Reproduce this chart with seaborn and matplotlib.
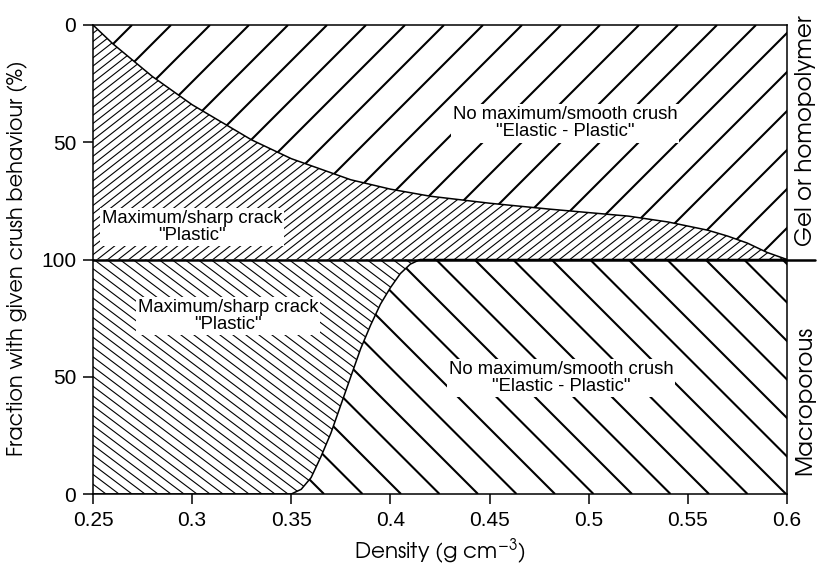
import numpy as np
import matplotlib.pyplot as plt
import seaborn as sns
from matplotlib.collections import LineCollection

# Gel / homopolymer panel: boundary position, % measured down from the top
density_gel = [0.25, 0.26, 0.27, 0.28, 0.29, 0.30, 0.31, 0.32, 0.33, 0.34, 0.35,
               0.36, 0.38, 0.40, 0.42, 0.45, 0.48, 0.50, 0.52, 0.54, 0.56, 0.57,
               0.58, 0.59, 0.60]
gel_boundary_pct = [0, 8, 15, 22, 28, 34, 39, 44, 49, 53, 57,
                    60, 66, 70, 73, 76, 78.5, 80, 81.5, 84, 87.5, 90,
                    93, 97, 100]

# Macroporous panel: boundary position, % measured up from the bottom
density_macro = [0.25, 0.35, 0.355, 0.36, 0.365, 0.37, 0.375, 0.38, 0.385, 0.39,
                 0.395, 0.40, 0.405, 0.41, 0.415, 0.60]
macro_boundary_pct = [0, 0, 2, 7, 16, 26, 38, 50, 62, 72, 81, 88, 94, 98, 100, 100]

x_ticks = [0.25, 0.3, 0.35, 0.4, 0.45, 0.5, 0.55, 0.6]
x_tick_labels = ["0.25", "0.3", "0.35", "0.4", "0.45", "0.5", "0.55", "0.6"]
y_ticks = [0, 50, 100, 150, 200]
y_tick_labels = ["0", "50", "100", "50", "0"]

sns.set_theme(style="ticks")
plt.rcParams["font.family"] = ["Liberation Sans", "DejaVu Sans"]
plt.rcParams["axes.linewidth"] = 1.1
plt.rcParams["text.color"] = "black"
plt.rcParams["mathtext.default"] = "regular"

W_PX, H_PX = 694, 469
fig = plt.figure(figsize=(8.17, 5.66), dpi=100)
ax = fig.add_axes([93 / 817, 1 - 494 / 566, W_PX / 817, H_PX / 566])

gel_x = np.array(density_gel)
gel_y = 200 - np.array(gel_boundary_pct)
macro_x = np.array(density_macro)
macro_y = np.array(macro_boundary_pct)

gel_sharp = ax.fill_between(gel_x, 100, gel_y, facecolor="none", edgecolor="none")
gel_smooth = ax.fill_between(gel_x, gel_y, 200, facecolor="none", edgecolor="none")
macro_sharp = ax.fill_between(macro_x, macro_y, 100, facecolor="none", edgecolor="none")
macro_smooth = ax.fill_between(macro_x, 0, macro_y, facecolor="none", edgecolor="none")


def hatch(region, angle, step, lw, phase=0.0):
    # parallel lines in pixel space, clipped to the filled region
    run = H_PX / np.tan(np.radians(abs(angle)))
    offsets = np.arange(-run - step + phase, W_PX + run + step, step)
    segs = []
    for c in offsets:
        if angle > 0:
            segs.append([(c / W_PX, 0), ((c + run) / W_PX, 1)])
        else:
            segs.append([((c + run) / W_PX, 0), (c / W_PX, 1)])
    lc = LineCollection(segs, transform=ax.transAxes, colors="black", linewidths=lw)
    lc.set_clip_path(region.get_paths()[0], ax.transData)
    ax.add_collection(lc, autolim=False)


hatch(gel_sharp, 38, 10.5, 0.8)
hatch(gel_smooth, 45, 39, 1.5)
hatch(macro_sharp, -37, 13, 0.8)
hatch(macro_smooth, -45, 38.5, 1.5)

sns.lineplot(x=gel_x, y=gel_y, color="black", lw=1.1, sort=False, estimator=None, ax=ax)
sns.lineplot(x=macro_x, y=macro_y, color="black", lw=1.1, sort=False, estimator=None, ax=ax)
ax.axhline(100, xmin=0, xmax=1.04, color="black", lw=1.8, clip_on=False)

ax.set_xlim(0.25, 0.6)
ax.set_ylim(0, 200)
ax.set_xticks(x_ticks)
ax.set_xticklabels(x_tick_labels)
ax.set_yticks(y_ticks)
ax.set_yticklabels(y_tick_labels)
ax.tick_params(direction="out", length=7, width=1.1, labelsize=15, colors="black", pad=5)
for s in ax.spines.values():
    s.set_color("black")

box = dict(facecolor="white", edgecolor="none", pad=1.5)
label_kw = dict(ha="center", va="center", fontsize=13.3, linespacing=1.0, bbox=box,
                family=["Liberation Sans", "DejaVu Sans"], color="black")
ax.text(0.300, 114, 'Maximum/sharp crack\n"Plastic"', **label_kw)
ax.text(0.488, 158, 'No maximum/smooth crush\n"Elastic - Plastic"', **label_kw)
ax.text(0.318, 76, 'Maximum/sharp crack\n"Plastic"', **label_kw)
ax.text(0.486, 49.5, 'No maximum/smooth crush\n"Elastic - Plastic"', **label_kw)

axis_font = ["TeX Gyre Adventor", "DejaVu Sans"]
fig.text(17 / 817, 1 - 258 / 566, "Fraction with given crush behaviour (%)",
         rotation=90, ha="center", va="center", fontsize=15, family=axis_font, color="black")
fig.text(440 / 817, 1 - 551 / 566, "Density (g cm$^{-3}$)",
         ha="center", va="center", fontsize=15.5, family=axis_font, color="black")
fig.text(805 / 817, 1 - 131 / 566, "Gel or homopolymer",
         rotation=90, ha="center", va="center", fontsize=16.5, family=axis_font, color="black")
fig.text(805 / 817, 1 - 400 / 566, "Macroporous",
         rotation=90, ha="center", va="center", fontsize=16.5, family=axis_font, color="black")

fig.savefig("out.png", dpi=100)
